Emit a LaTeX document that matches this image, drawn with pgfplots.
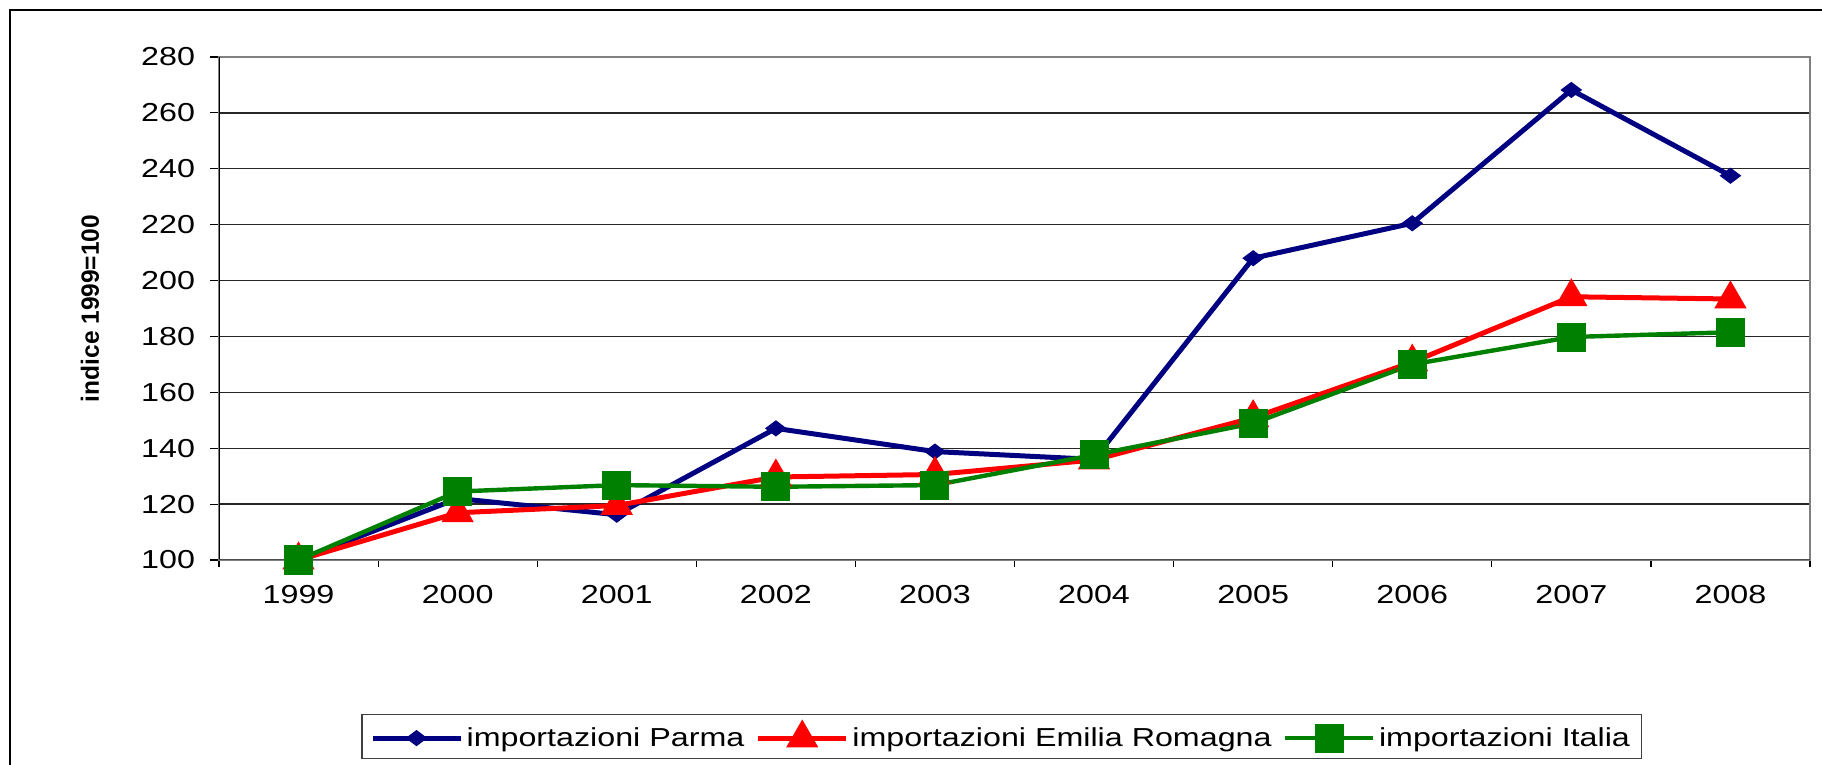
\documentclass[border=0pt]{standalone}
\usepackage{fontspec}
\setmainfont{Liberation Sans}[FakeStretch=1.24]
\newfontfamily\ylabfont{Liberation Sans}[FakeStretch=0.98]
\usepackage{pgfplots}
\pgfplotsset{compat=1.18}
\definecolor{cnavy}{RGB}{0,0,128}
\definecolor{cred}{RGB}{255,0,0}
\definecolor{cgreen}{RGB}{0,128,0}
\definecolor{cframe}{RGB}{128,128,128}
\begin{document}
\begin{tikzpicture}
\useasboundingbox (0,0) rectangle (911bp,382.5bp);
\draw[black, line width=0.8bp] (5bp,0) -- (5bp,377.5bp) -- (911bp,377.5bp);
\begin{axis}[
  at={(109.5bp,102.5bp)}, anchor=south west,
  scale only axis, width=795.5bp, height=251.5bp,
  xmin=-0.5, xmax=9.5, ymin=100, ymax=280,
  xtick={0,1,2,3,4,5,6,7,8,9},
  xticklabels={1999,2000,2001,2002,2003,2004,2005,2006,2007,2008},
  minor xtick={-0.5,0.5,1.5,2.5,3.5,4.5,5.5,6.5,7.5,8.5,9.5},
  ytick={100,120,140,160,180,200,220,240,260,280},
  xtick pos=bottom, ytick pos=left,
  tick align=outside,
  major tick length=4.5bp, minor tick length=3.5bp,
  major x tick style={draw=none},
  every tick/.style={black, line width=0.6bp},
  minor x tick style={black, line width=0.6bp},
  axis line style={cframe, line width=1.2bp},
  ymajorgrids,
  major grid style={black!85, line width=0.65bp},
  /pgf/number format/assume math mode=true,
  tick label style={font=\fontsize{13bp}{15bp}\selectfont, black},
  xticklabel style={yshift=-4.5bp},
  yticklabel style={xshift=-4bp},
  ylabel={\ylabfont\bfseries indice 1999=100},
  ylabel style={at={(axis description cs:-0.0811,0.5)}, anchor=center, font=\fontsize{12.5bp}{14bp}\selectfont},
  legend columns=3,
  legend style={at={(0.492,-0.351)}, anchor=center, draw=black!75, line width=0.8bp,
    font=\fontsize{13bp}{15bp}\selectfont, inner xsep=4bp, inner ysep=3bp,
    nodes={inner sep=1.8bp},
    /tikz/every even column/.append style={column sep=3.9bp}},
  legend image code/.code={\draw[mark repeat=2,mark phase=2,#1] plot coordinates {(0bp,0bp) (22bp,0bp) (44bp,0bp)};},
]
\addplot[cnavy, line width=2.5bp, mark=diamond*, mark size=5bp,
  mark options={solid, rotate=90, fill=cnavy, draw=cnavy, line width=0.5bp}]
  coordinates {(0,100) (1,122) (2,116.2) (3,147.1) (4,138.8) (5,136) (6,208) (7,220.5) (8,268.2) (9,237.5)};
\addlegendentry{importazioni Parma}
\addplot[cred, line width=2.5bp, mark=triangle*, mark size=8.8bp,
  mark options={solid, fill=cred, draw=cred, line width=0.5bp}]
  coordinates {(0,100) (1,116.9) (2,119.5) (3,129.7) (4,130.6) (5,135.8) (6,150.9) (7,170.8) (8,194.2) (9,193.4)};
\addlegendentry{importazioni Emilia Romagna}
\addplot[cgreen, line width=2.2bp, mark=square*, mark size=7bp,
  mark options={solid, fill=cgreen, draw=cgreen, line width=0.5bp}]
  coordinates {(0,100) (1,124.5) (2,126.8) (3,126.2) (4,126.8) (5,137.6) (6,148.9) (7,170) (8,179.8) (9,181.5)};
\addlegendentry{importazioni Italia}
\draw[black, line width=1.2bp] (rel axis cs:0,0) -- (rel axis cs:0,1);
\draw[black!70, line width=1.2bp] (rel axis cs:0,0) -- (rel axis cs:1,0);
\end{axis}
\end{tikzpicture}
\end{document}
